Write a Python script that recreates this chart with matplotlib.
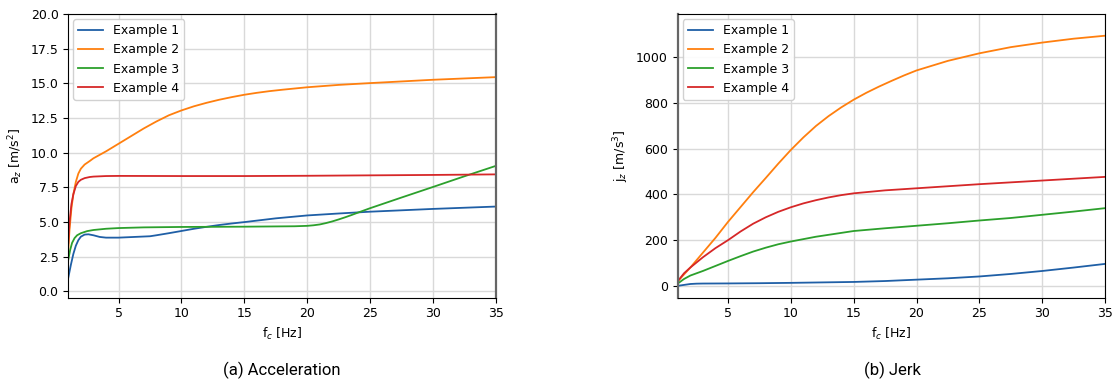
import matplotlib
matplotlib.use("Agg")
import matplotlib.pyplot as plt

# ---- data -------------------------------------------------------------
labels = ["Example 1", "Example 2", "Example 3", "Example 4"]
colors = ["#1f5fa6", "#ff7f0e", "#2ca02c", "#d62728"]

# acceleration a_z [m/s^2] vs cutoff frequency f_c [Hz]
acc_x1 = [1, 1.2, 1.4, 1.6, 1.8, 2.0, 2.3, 2.6, 3.0, 3.5, 4, 5, 6, 7, 7.5, 8, 9, 10,
          11, 12, 13, 14, 15, 17.5, 20, 22.5, 25, 30, 35]
acc_y1 = [1.0, 1.9, 2.7, 3.3, 3.7, 3.95, 4.1, 4.12, 4.05, 3.93, 3.88, 3.88, 3.92, 3.96,
          3.98, 4.05, 4.2, 4.36, 4.52, 4.66, 4.79, 4.9, 5.0, 5.27, 5.48, 5.62, 5.75, 5.95,
          6.12]
acc_x2 = [1, 1.1, 1.25, 1.4, 1.6, 1.8, 2.0, 2.3, 2.7, 3, 4, 5, 6, 7, 8, 9, 10, 11, 12,
          13, 14, 15, 16, 17, 18, 20, 22.5, 25, 30, 35]
acc_y2 = [3.0, 4.5, 6.0, 7.0, 7.9, 8.5, 8.85, 9.15, 9.4, 9.6, 10.1, 10.65, 11.2, 11.75,
          12.25, 12.7, 13.05, 13.35, 13.6, 13.82, 14.01, 14.18, 14.32, 14.44, 14.54, 14.72,
          14.89, 15.02, 15.26, 15.45]
acc_x3 = [1, 1.15, 1.3, 1.5, 1.7, 2.0, 2.5, 3, 4, 5, 7, 10, 15, 19, 20, 20.5, 21, 21.5,
          22, 22.5, 23, 23.5, 24, 25, 27.5, 30, 32.5, 35]
acc_y3 = [2.3, 3.0, 3.5, 3.85, 4.05, 4.2, 4.35, 4.43, 4.52, 4.57, 4.62, 4.65, 4.67, 4.7,
          4.73, 4.77, 4.83, 4.93, 5.05, 5.19, 5.34, 5.5, 5.67, 6.0, 6.77, 7.53, 8.3, 9.05]
acc_x4 = [1, 1.1, 1.25, 1.4, 1.6, 1.8, 2.0, 2.3, 2.7, 3, 4, 5, 10, 15, 20, 25, 30, 35]
acc_y4 = [3.5, 5.0, 6.3, 7.0, 7.6, 7.9, 8.05, 8.17, 8.25, 8.28, 8.32, 8.33, 8.32, 8.32,
          8.34, 8.37, 8.4, 8.44]

# jerk j_z [m/s^3] vs cutoff frequency f_c [Hz]
jerk_x1 = [1, 1.5, 2, 2.5, 3, 5, 7.5, 10, 12.5, 15, 17.5, 20, 22.5, 25, 27.5, 30, 32.5, 35]
jerk_y1 = [0, 4, 8, 9.5, 10, 10.5, 11.5, 13, 15, 17, 21, 27, 33, 41, 52, 65, 80, 96]
jerk_x2 = [1, 2, 3, 4, 5, 6, 7, 8, 9, 10, 11, 12, 13, 14, 15, 16, 17, 18, 19, 20, 22.5,
           25, 27.5, 30, 32.5, 35]
jerk_y2 = [20, 80, 145, 210, 280, 345, 410, 472, 535, 595, 650, 700, 743, 781, 815, 845,
           872, 897, 921, 943, 985, 1018, 1045, 1065, 1082, 1095]
jerk_x3 = [1, 1.5, 2, 3, 4, 5, 6, 7, 8, 9, 10, 12, 15, 17.5, 20, 22.5, 25, 27.5, 30, 32.5, 35]
jerk_y3 = [10, 30, 45, 65, 87, 109, 130, 150, 167, 182, 194, 215, 240, 252, 263, 274, 286,
           297, 311, 325, 340]
jerk_x4 = [1, 1.5, 2, 3, 4, 5, 6, 7, 8, 9, 10, 11, 12, 13, 14, 15, 17.5, 20, 25, 30, 35]
jerk_y4 = [20, 55, 80, 125, 165, 200, 238, 272, 300, 324, 344, 361, 375, 387, 397, 405,
           418, 427, 445, 461, 477]

acc_series = [(acc_x1, acc_y1), (acc_x2, acc_y2), (acc_x3, acc_y3), (acc_x4, acc_y4)]
jerk_series = [(jerk_x1, jerk_y1), (jerk_x2, jerk_y2), (jerk_x3, jerk_y3), (jerk_x4, jerk_y4)]

x_ticks = [5, 10, 15, 20, 25, 30, 35]

# ---- figure -----------------------------------------------------------
plt.rcParams["font.family"] = "DejaVu Sans"
plt.rcParams["font.size"] = 9

fig = plt.figure(figsize=(11.16, 3.83), dpi=100)
ax_a = fig.add_axes([0.0612, 0.2227, 0.383, 0.7407])
ax_j = fig.add_axes([0.6073, 0.2227, 0.3829, 0.7407])

for ax, series in ((ax_a, acc_series), (ax_j, jerk_series)):
    for (xs, ys), lab, col in zip(series, labels, colors):
        ax.plot(xs, ys, color=col, lw=1.3, label=lab)
    ax.set_xlim(1, 35)
    ax.set_xticks(x_ticks)
    ax.grid(True, color="#d9d9d9", lw=1.0)
    ax.set_axisbelow(True)
    ax.set_xlabel(r"f$_c$ [Hz]", fontsize=9)
    ax.tick_params(labelsize=9)
    ax.legend(loc="upper left", fontsize=9, framealpha=0.9, edgecolor="#cccccc",
              handlelength=2.0, borderaxespad=0.4)

ax_a.set_ylim(-0.45, 20)
ax_a.set_yticks([0, 2.5, 5, 7.5, 10, 12.5, 15, 17.5, 20])
ax_a.set_ylabel(r"a$_z$ [m/s$^2$]", fontsize=9)
ax_a.spines["right"].set_color("#666666")
ax_a.spines["right"].set_linewidth(1.6)

ax_j.set_ylim(-52, 1190)
ax_j.set_yticks([0, 200, 400, 600, 800, 1000])
ax_j.set_ylabel(r"j$_z$ [m/s$^3$]", fontsize=9)
ax_j.spines["left"].set_color("#666666")
ax_j.spines["left"].set_linewidth(1.6)

fig.text(282 / 1116, 0.034, "(a) Acceleration", family="Roboto", fontsize=12,
         ha="center", va="center")
fig.text(892 / 1116, 0.034, "(b) Jerk", family="Roboto", fontsize=12,
         ha="center", va="center")

fig.savefig("out.png", dpi=100)
